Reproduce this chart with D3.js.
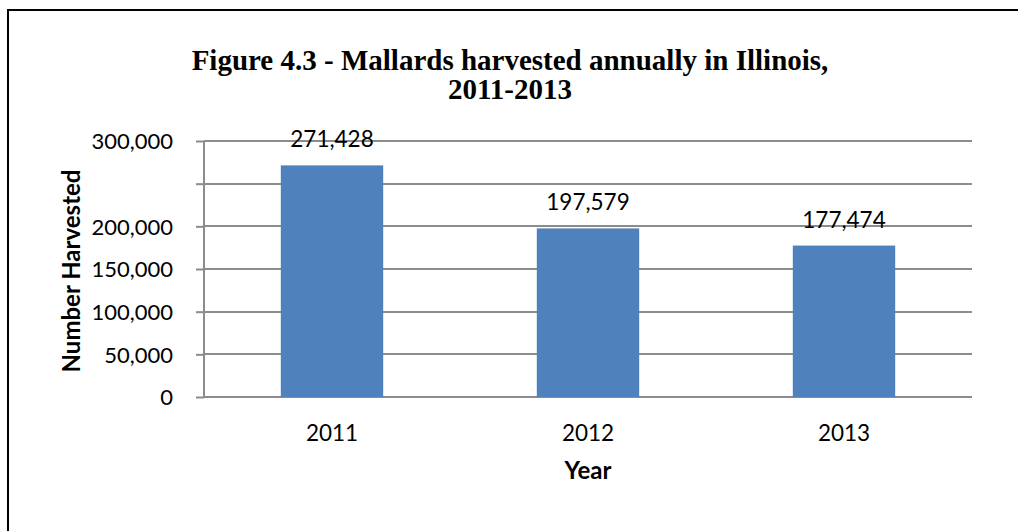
<!DOCTYPE html>
<html lang="en">
  <head>
    <meta charset="utf-8">
    <title>Mallards harvested annually in Illinois</title>
    <style>
      body { margin: 0; background: #fff; }
      .tick text, .label { font-family: Lato, "Open Sans", sans-serif; fill: #000; }
      .title { font-family: "Liberation Serif", "Times New Roman", serif; font-weight: bold; }
    </style>
  </head>
  <body>
    <svg width="1018" height="531"></svg>

    <script src="https://d3js.org/d3.v7.min.js"></script>
    <script>

    // data
    var years = ["2011", "2012", "2013"];
    var harvested = [271428, 197579, 177474];
    var tickValues = [0, 50000, 100000, 150000, 200000, 250000, 300000];
    // 250,000 has a gridline but no label in the original
    var tickLabels = ["0", "50,000", "100,000", "150,000", "200,000", "", "300,000"];

    var svg = d3.select("svg");

    // outer frame, runs off the right and bottom edges
    svg.append("rect")
        .attr("x", 8).attr("y", 10)
        .attr("width", 1030).attr("height", 540)
        .attr("fill", "none")
        .attr("stroke", "#000")
        .attr("stroke-width", 2);

    var plotLeft = 204, plotRight = 972, plotTop = 141, plotBottom = 397;

    var x = d3.scaleBand()
        .domain(years)
        .range([plotLeft, plotRight])
        .paddingInner(0.6)
        .paddingOuter(0.3);

    var y = d3.scaleLinear()
        .domain([0, 300000])
        .range([plotBottom, plotTop]);

    // gridlines
    svg.append("g")
        .selectAll("line")
        .data(tickValues)
      .enter().append("line")
        .attr("x1", plotLeft).attr("x2", plotRight)
        .attr("y1", function(d) { return Math.round(y(d)); })
        .attr("y2", function(d) { return Math.round(y(d)); })
        .attr("stroke", "#8c8c8c")
        .attr("stroke-width", 2);

    // y axis
    var yAxis = svg.append("g")
        .attr("transform", "translate(" + plotLeft + ",0)")
        .call(d3.axisLeft(y)
          .tickValues(tickValues)
          .tickSize(8)
          .tickPadding(23)
          .tickFormat(function(d, i) { return tickLabels[i]; }));
    yAxis.selectAll("line").attr("stroke", "#8c8c8c").attr("stroke-width", 2);
    yAxis.select(".domain").attr("stroke", "#8c8c8c").attr("stroke-width", 2)
        .attr("d", "M0," + plotTop + "V" + plotBottom);
    yAxis.selectAll("text").style("font-size", "22px").attr("dy", "0.36em");

    // bars
    svg.append("g")
        .selectAll("rect")
        .data(harvested)
      .enter().append("rect")
        .attr("x", function(d, i) { return x(years[i]); })
        .attr("y", function(d) { return y(d); })
        .attr("width", x.bandwidth())
        .attr("height", function(d) { return y(0) - y(d); })
        .attr("fill", "#4f81bd");

    // value labels
    svg.append("g")
        .selectAll("text")
        .data(harvested)
      .enter().append("text")
        .attr("class", "label")
        .attr("x", function(d, i) { return x(years[i]) + x.bandwidth() / 2; })
        .attr("y", function(d) { return y(d) - 18; })
        .attr("text-anchor", "middle")
        .style("font-size", "22.5px")
        .text(function(d) { return d3.format(",")(d); });

    // x axis labels
    svg.append("g")
        .selectAll("text")
        .data(years)
      .enter().append("text")
        .attr("class", "label")
        .attr("x", function(d) { return x(d) + x.bandwidth() / 2; })
        .attr("y", 441)
        .attr("text-anchor", "middle")
        .style("font-size", "22.5px")
        .text(function(d) { return d; });

    svg.append("text")
        .attr("class", "label")
        .attr("x", (plotLeft + plotRight) / 2)
        .attr("y", 479)
        .attr("text-anchor", "middle")
        .style("font-size", "24px")
        .style("font-weight", "bold")
        .text("Year");

    svg.append("text")
        .attr("class", "label")
        .attr("transform", "translate(80," + 271 + ") rotate(-90)")
        .attr("text-anchor", "middle")
        .style("font-size", "24px")
        .style("font-weight", "bold")
        .text("Number Harvested");

    // title
    var title = svg.append("text")
        .attr("class", "title")
        .attr("text-anchor", "middle")
        .style("font-size", "29px");
    title.append("tspan").attr("x", 510).attr("y", 70)
        .text("Figure 4.3 - Mallards harvested annually in Illinois,");
    title.append("tspan").attr("x", 510).attr("y", 99)
        .text("2011-2013");

    </script>
  </body>
</html>
